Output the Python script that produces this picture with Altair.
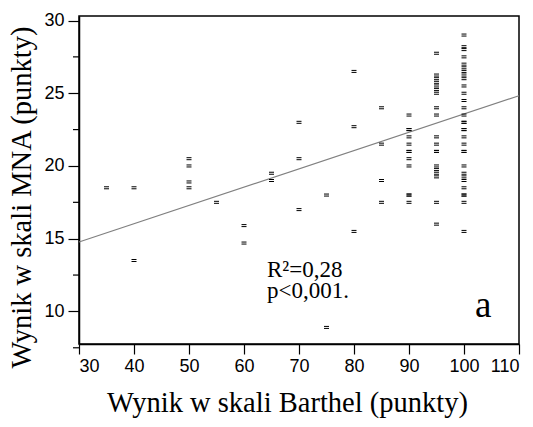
import altair as alt
import pandas as pd

# ---- data ----
barthel_levels = [35, 40, 50, 55, 60, 65, 70, 75, 80, 85, 90, 95, 100]
mna_by_level = [
    [18.5],
    [18.5, 13.5],
    [20.5, 20.0, 18.9, 18.5],
    [17.5],
    [15.9, 14.7],
    [19.5, 19.0],
    [23.0, 20.5, 17.0],
    [18.0, 8.9],
    [26.5, 22.7, 15.5],
    [24.0, 21.5, 19.0, 17.5],
    [23.5, 22.5, 22.5, 22.0, 21.5, 21.0, 21.0, 20.5, 20.0, 18.0, 18.0, 17.5],
    [27.75, 26.25, 26.0, 25.75, 25.5, 25.25, 25.0, 24.0, 23.5, 22.0, 21.5,
     21.0, 21.0, 20.0, 19.75, 19.5, 19.25, 17.5, 16.0],
    [29.0, 28.2, 28.0, 27.5, 27.0, 26.75, 26.5, 26.25, 26.0, 25.5, 25.0, 24.5,
     24.0, 23.5, 23.0, 23.0, 22.5, 22.5, 22.0, 21.5, 21.0, 21.0, 20.0, 19.5,
     19.25, 19.0, 18.5, 18.0, 18.0, 17.5, 15.5],
]
fit_x = [30, 110]
fit_y = [14.77, 24.83]
x_ticks = [30, 40, 50, 60, 70, 80, 90, 100, 110]
y_ticks = [10, 15, 20, 25, 30]
y_minor_ticks = [7.5, 12.5, 17.5, 22.5, 27.5]
x_title = "Wynik w skali Barthel (punkty)"
y_title = "Wynik w skali MNA (punkty)"
stat_r2 = "R²=0,28"
stat_p = "p<0,001."
panel_letter = "a"

rows = [{"barthel": b, "mna": v} for b, vals in zip(barthel_levels, mna_by_level) for v in vals]
points_df = pd.DataFrame(rows)
fit_df = pd.DataFrame({"barthel": fit_x, "mna": fit_y})
minor_df = pd.DataFrame({"mna": y_minor_ticks})

SANS = "Liberation Sans"
SERIF = "Liberation Serif"

x_scale = alt.Scale(domain=[30, 110], nice=False, zero=False)
y_scale = alt.Scale(domain=[7.76, 30.31], nice=False, zero=False)

x_axis = alt.Axis(values=x_ticks, tickSize=10, tickColor="black", tickWidth=1.2,
                  domainColor="black", domainWidth=1.5, labelFont=SANS, labelFontSize=18,
                  labelColor="black", labelPadding=3, grid=False, title=x_title,
                  titleFont=SERIF, titleFontSize=28.5, titleFontWeight="normal",
                  titleColor="black", titleX=208, titleY=67, titleAlign="center",
                  titleBaseline="alphabetic")
y_axis = alt.Axis(values=y_ticks, tickSize=11, tickColor="black", tickWidth=1.2,
                  domainColor="black", domainWidth=1.5, labelFont=SANS, labelFontSize=18,
                  labelColor="black", labelPadding=4, grid=False, title=y_title,
                  titleFont=SERIF, titleFontSize=28.5, titleFontWeight="normal",
                  titleColor="black", titleX=-49, titleY=181, titleAngle=270,
                  titleAlign="center", titleBaseline="alphabetic")

points = alt.Chart(points_df).mark_point(
    shape="M-1,-0.4H1M-1,0.4H1", size=25, filled=False, stroke="black",
    strokeWidth=1, opacity=1
).encode(
    x=alt.X("barthel:Q", scale=x_scale, axis=x_axis),
    y=alt.Y("mna:Q", scale=y_scale, axis=y_axis),
)

fit = alt.Chart(fit_df).mark_line(color="#808080", strokeWidth=1.2).encode(
    x=alt.X("barthel:Q", scale=x_scale),
    y=alt.Y("mna:Q", scale=y_scale),
)

minor = alt.Chart(minor_df).mark_rule(color="black", strokeWidth=1.2, clip=False).encode(
    y=alt.Y("mna:Q", scale=y_scale),
    x=alt.value(-6),
    x2=alt.value(0),
)

def label(txt, px, py, size):
    return alt.Chart(pd.DataFrame({"t": [txt]})).mark_text(
        font=SERIF, fontSize=size, align="left", baseline="alphabetic", color="black"
    ).encode(text="t:N", x=alt.value(px), y=alt.value(py))

chart = alt.layer(
    fit, points, minor,
    label(stat_r2, 188, 261, 23),
    label(stat_p, 188, 282, 23),
    label(panel_letter, 396, 301, 37),
).properties(
    width=440, height=328,
    autosize=alt.AutoSizeParams(type="none"),
    padding={"left": 71, "top": 8, "right": 6, "bottom": 75},
).configure_view(stroke="black", strokeWidth=1.5)

chart.save("out.html", embed_options={"renderer": "svg", "actions": False})
